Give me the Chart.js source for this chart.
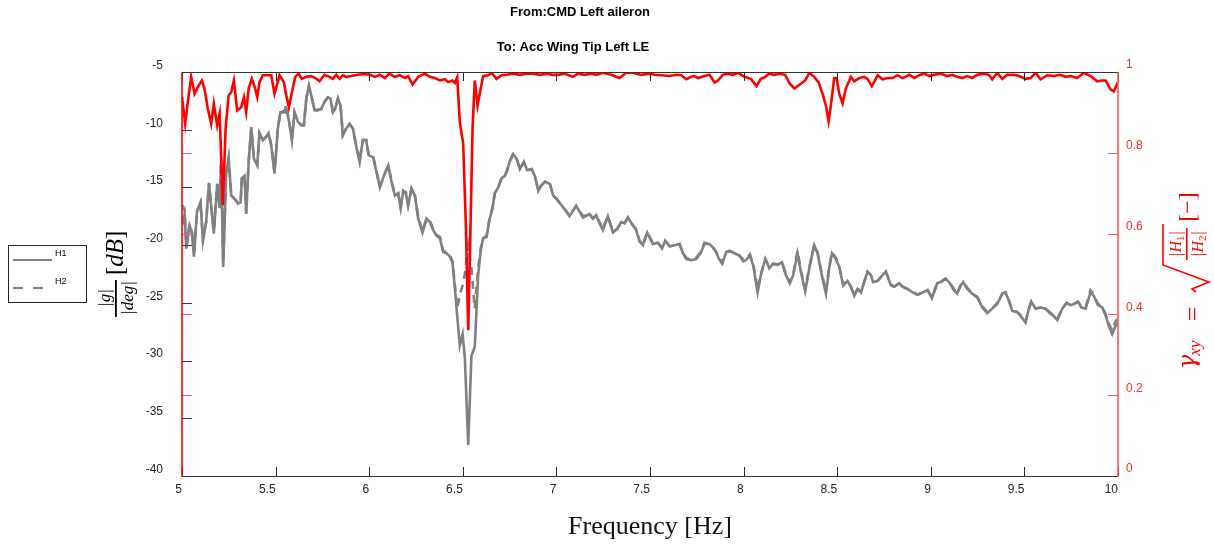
<!DOCTYPE html>
<html>
<head>
<meta charset="utf-8">
<script src="https://cdn.jsdelivr.net/npm/chart.js@4"></script>
<style>
  html, body { margin: 0; padding: 0; background: #fff; }
  #wrap { width: 1214px; height: 546px; }
</style>
</head>
<body>
<div id="wrap"><canvas id="chart" width="1214" height="546"></canvas></div>
<script>
// frequency points of the magnitude curves [Hz]
const freqMag = [
  5.000, 5.014, 5.023, 5.040, 5.053, 5.064, 5.080, 5.099, 5.112, 5.129,
  5.144, 5.156, 5.170, 5.188, 5.201, 5.209, 5.220, 5.236, 5.249, 5.263,
  5.281, 5.299, 5.313, 5.320, 5.334, 5.343, 5.356, 5.370, 5.384, 5.402,
  5.414, 5.432, 5.450, 5.462, 5.477, 5.494, 5.512, 5.526, 5.548, 5.557,
  5.571, 5.587, 5.601, 5.619, 5.637, 5.651, 5.664, 5.678, 5.690, 5.708,
  5.726, 5.744, 5.761, 5.779, 5.793, 5.806, 5.818, 5.833, 5.847, 5.859,
  5.877, 5.895, 5.913, 5.930, 5.949, 5.966, 5.984, 5.997, 6.022, 6.057,
  6.078, 6.102, 6.119, 6.137, 6.155, 6.168, 6.182, 6.196, 6.208, 6.226,
  6.244, 6.262, 6.285, 6.306, 6.324, 6.342, 6.360, 6.378, 6.395, 6.413,
  6.431, 6.445, 6.458, 6.470, 6.484, 6.499, 6.511, 6.529, 6.546, 6.564,
  6.582, 6.597, 6.609, 6.627, 6.641, 6.659, 6.671, 6.689, 6.707, 6.725,
  6.737, 6.752, 6.769, 6.787, 6.805, 6.826, 6.844, 6.867, 6.885, 6.903,
  6.921, 6.939, 6.965, 6.983, 7.001, 7.040, 7.070, 7.106, 7.142, 7.177,
  7.195, 7.213, 7.225, 7.248, 7.275, 7.302, 7.325, 7.346, 7.364, 7.382,
  7.409, 7.426, 7.444, 7.462, 7.485, 7.515, 7.542, 7.564, 7.581, 7.605,
  7.631, 7.658, 7.676, 7.694, 7.720, 7.747, 7.770, 7.791, 7.818, 7.836,
  7.854, 7.868, 7.886, 7.907, 7.925, 7.952, 7.978, 7.999, 8.012, 8.034,
  8.052, 8.075, 8.092, 8.116, 8.137, 8.158, 8.181, 8.205, 8.226, 8.247,
  8.265, 8.288, 8.306, 8.329, 8.351, 8.377, 8.395, 8.418, 8.440, 8.457,
  8.472, 8.493, 8.511, 8.532, 8.555, 8.573, 8.591, 8.609, 8.627, 8.644,
  8.662, 8.680, 8.692, 8.716, 8.742, 8.760, 8.787, 8.805, 8.831, 8.849,
  8.876, 8.903, 8.929, 8.956, 8.983, 9.006, 9.034, 9.052, 9.079, 9.102,
  9.123, 9.141, 9.159, 9.173, 9.195, 9.221, 9.248, 9.275, 9.302, 9.328,
  9.355, 9.382, 9.399, 9.417, 9.435, 9.462, 9.483, 9.506, 9.524, 9.537,
  9.560, 9.586, 9.613, 9.636, 9.654, 9.676, 9.702, 9.725, 9.747, 9.764,
  9.786, 9.804, 9.827, 9.853, 9.871, 9.893, 9.916, 9.934, 9.951, 9.969,
  9.987, 10.000
];

// H1 estimate [dB]
const h1Db = [
  -18.3, -17.3, -20.3, -18.3, -18.9, -21.0, -17.1, -16.3, -19.6, -18.0,
  -14.7, -16.6, -19.0, -14.7, -16.8, -12.8, -21.9, -13.7, -12.5, -15.7,
  -16.0, -16.4, -16.3, -14.2, -14.0, -17.3, -12.8, -9.8, -12.5, -13.1,
  -10.3, -10.9, -10.6, -10.3, -11.4, -13.8, -9.9, -8.5, -8.5, -8.2,
  -9.2, -10.9, -8.5, -9.3, -9.6, -9.6, -7.3, -6.2, -7.0, -8.3,
  -8.3, -8.2, -7.6, -7.2, -7.3, -8.5, -8.2, -7.3, -7.9, -10.5,
  -9.9, -9.5, -9.9, -11.4, -12.8, -10.9, -10.9, -12.2, -12.4, -15.0,
  -14.0, -13.1, -14.5, -15.7, -15.5, -16.8, -15.3, -15.5, -16.6, -15.1,
  -15.7, -17.7, -18.9, -17.7, -18.0, -18.7, -19.2, -19.4, -20.6, -20.7,
  -21.0, -21.5, -23.8, -26.1, -28.7, -27.7, -29.8, -37.3, -29.6, -28.8,
  -22.6, -20.3, -19.4, -19.3, -17.9, -16.8, -15.5, -15.0, -14.2, -14.0,
  -13.5, -12.7, -12.1, -12.5, -13.4, -12.8, -13.5, -13.4, -14.0, -15.3,
  -14.8, -14.5, -14.7, -15.7, -16.0, -16.8, -17.5, -16.6, -17.6, -17.3,
  -17.7, -17.4, -17.9, -18.7, -17.5, -18.9, -18.6, -18.0, -18.1, -17.6,
  -18.3, -18.7, -19.7, -20.0, -18.9, -19.9, -19.8, -20.3, -19.6, -20.1,
  -20.0, -19.9, -20.7, -21.2, -21.3, -21.2, -20.7, -19.9, -19.9, -20.2,
  -20.6, -21.2, -21.6, -20.6, -20.5, -20.7, -20.9, -21.4, -21.3, -20.9,
  -21.8, -24.1, -22.6, -21.2, -22.0, -21.6, -21.7, -21.5, -22.6, -23.3,
  -22.6, -20.7, -22.3, -24.0, -22.0, -20.0, -20.7, -22.6, -24.2, -22.0,
  -20.7, -21.2, -21.9, -23.5, -23.1, -23.6, -24.4, -23.8, -24.1, -23.2,
  -22.3, -22.6, -23.2, -23.1, -22.6, -22.3, -23.5, -23.6, -23.3, -23.6,
  -23.8, -24.1, -24.3, -24.1, -23.9, -24.6, -23.3, -23.2, -22.9, -23.3,
  -23.9, -24.2, -23.5, -23.2, -23.8, -24.2, -24.5, -25.4, -25.9, -25.5,
  -25.1, -24.2, -24.1, -24.8, -25.7, -25.8, -26.2, -26.7, -25.5, -24.9,
  -25.5, -25.4, -25.5, -25.9, -26.1, -26.5, -25.5, -25.0, -25.2, -25.1,
  -24.9, -25.4, -25.5, -24.1, -24.4, -25.2, -25.4, -26.1, -27.0, -27.7,
  -27.0, -26.7
];

// H2 estimate [dB]
const h2Db = [
  -16.5, -17.0, -20.1, -18.2, -18.9, -20.8, -17.1, -16.3, -19.5, -18.0,
  -14.6, -16.6, -18.8, -14.7, -16.6, -12.4, -21.5, -13.7, -12.4, -15.6,
  -16.0, -16.3, -16.3, -14.1, -14.0, -17.2, -12.8, -9.8, -12.4, -13.0,
  -10.3, -10.9, -10.6, -10.3, -11.3, -13.7, -9.9, -8.4, -8.4, -7.8,
  -9.2, -10.8, -8.5, -9.3, -9.6, -9.6, -7.3, -6.2, -7.0, -8.3,
  -8.3, -8.2, -7.6, -7.2, -7.3, -8.4, -8.2, -7.3, -7.9, -10.4,
  -9.9, -9.5, -9.9, -11.3, -12.7, -10.9, -10.9, -12.2, -12.4, -14.9,
  -14.0, -13.1, -14.4, -15.6, -15.5, -16.7, -15.3, -15.4, -16.5, -15.1,
  -15.7, -17.6, -18.8, -17.7, -17.9, -18.6, -19.1, -19.3, -20.5, -20.6,
  -20.9, -21.4, -23.5, -25.5, -24.3, -23.5, -22.5, -20.0, -22.0, -25.5,
  -22.0, -20.2, -19.4, -19.2, -17.9, -16.7, -15.5, -15.0, -14.2, -14.0,
  -13.5, -12.7, -12.1, -12.5, -13.4, -12.8, -13.5, -13.4, -14.0, -15.2,
  -14.8, -14.5, -14.7, -15.7, -16.0, -16.8, -17.4, -16.6, -17.5, -17.3,
  -17.7, -17.4, -17.8, -18.6, -17.5, -18.8, -18.6, -18.0, -18.1, -17.6,
  -18.3, -18.6, -19.6, -20.0, -18.9, -19.8, -19.8, -20.2, -19.6, -20.1,
  -20.0, -19.9, -20.7, -21.1, -21.3, -21.1, -20.6, -19.8, -19.9, -20.2,
  -20.6, -21.1, -21.5, -20.6, -20.5, -20.7, -20.9, -21.3, -21.2, -20.8,
  -21.7, -23.9, -22.5, -21.2, -21.9, -21.6, -21.7, -21.5, -22.5, -23.2,
  -22.5, -20.5, -22.2, -23.8, -21.9, -20.0, -20.6, -22.5, -24.0, -21.9,
  -20.6, -21.1, -21.8, -23.4, -23.1, -23.6, -24.3, -23.8, -24.0, -23.2,
  -22.3, -22.6, -23.1, -23.1, -22.6, -22.3, -23.4, -23.6, -23.3, -23.6,
  -23.8, -24.0, -24.3, -24.1, -23.9, -24.5, -23.3, -23.2, -22.9, -23.3,
  -23.8, -24.2, -23.5, -23.2, -23.7, -24.2, -24.5, -25.3, -25.8, -25.5,
  -25.0, -24.2, -24.1, -24.8, -25.6, -25.8, -26.1, -26.6, -25.5, -24.9,
  -25.5, -25.4, -25.5, -25.8, -26.1, -26.4, -25.5, -25.0, -25.2, -25.1,
  -24.9, -25.3, -25.4, -23.9, -24.3, -25.1, -25.3, -26.0, -26.8, -27.4,
  -26.6, -26.4
];

// frequency points of the coherence curve [Hz]
const freqCoh = [
  5.000, 5.017, 5.031, 5.049, 5.067, 5.085, 5.106, 5.120, 5.138, 5.156,
  5.170, 5.188, 5.201, 5.218, 5.233, 5.249, 5.263, 5.277, 5.295, 5.316,
  5.331, 5.343, 5.356, 5.373, 5.388, 5.402, 5.414, 5.432, 5.459, 5.477,
  5.494, 5.509, 5.521, 5.544, 5.557, 5.571, 5.587, 5.605, 5.623, 5.640,
  5.664, 5.690, 5.712, 5.735, 5.761, 5.788, 5.806, 5.824, 5.842, 5.859,
  5.877, 5.904, 5.940, 5.975, 6.004, 6.030, 6.057, 6.084, 6.107, 6.137,
  6.164, 6.191, 6.208, 6.232, 6.262, 6.297, 6.324, 6.351, 6.378, 6.404,
  6.422, 6.445, 6.458, 6.470, 6.484, 6.502, 6.517, 6.529, 6.541, 6.552,
  6.564, 6.579, 6.595, 6.609, 6.636, 6.654, 6.680, 6.707, 6.734, 6.769,
  6.805, 6.841, 6.876, 6.912, 6.947, 6.983, 7.008, 7.044, 7.088, 7.115,
  7.150, 7.186, 7.213, 7.248, 7.293, 7.337, 7.373, 7.409, 7.453, 7.498,
  7.524, 7.560, 7.605, 7.640, 7.667, 7.694, 7.720, 7.738, 7.756, 7.791,
  7.818, 7.845, 7.863, 7.889, 7.916, 7.943, 7.970, 8.005, 8.039, 8.069,
  8.092, 8.116, 8.137, 8.164, 8.190, 8.222, 8.247, 8.271, 8.306, 8.329,
  8.351, 8.377, 8.400, 8.422, 8.440, 8.454, 8.466, 8.484, 8.497, 8.511,
  8.529, 8.546, 8.573, 8.591, 8.618, 8.644, 8.662, 8.685, 8.716, 8.742,
  8.769, 8.796, 8.822, 8.849, 8.885, 8.912, 8.938, 8.965, 8.992, 9.017,
  9.052, 9.088, 9.115, 9.141, 9.168, 9.195, 9.221, 9.248, 9.284, 9.310,
  9.328, 9.355, 9.382, 9.408, 9.444, 9.471, 9.506, 9.533, 9.560, 9.586,
  9.622, 9.658, 9.690, 9.720, 9.747, 9.782, 9.818, 9.853, 9.889, 9.916,
  9.934, 9.960, 9.978, 10.000
];

// coherence gamma_xy [-]
const coherence = [
  0.938, 0.872, 0.926, 0.988, 0.946, 0.963, 0.979, 0.959, 0.909, 0.872,
  0.922, 0.868, 0.897, 0.670, 0.860, 0.942, 0.950, 0.979, 0.905, 0.913,
  0.938, 0.901, 0.959, 0.983, 0.963, 0.938, 0.975, 0.992, 0.992, 0.992,
  0.946, 0.971, 0.992, 0.975, 0.942, 0.913, 0.950, 0.988, 0.996, 0.983,
  0.988, 0.990, 0.985, 0.977, 0.993, 0.988, 0.983, 0.993, 0.983, 0.992,
  0.988, 0.990, 0.993, 0.995, 0.993, 0.988, 0.993, 0.985, 0.996, 0.988,
  0.992, 0.985, 0.990, 0.969, 0.988, 0.996, 0.988, 0.985, 0.979, 0.982,
  0.975, 0.979, 0.973, 0.987, 0.876, 0.823, 0.612, 0.361, 0.612, 0.860,
  0.979, 0.917, 0.958, 0.990, 0.992, 0.998, 0.983, 0.992, 0.993, 0.996,
  0.993, 0.996, 0.996, 0.993, 0.996, 0.993, 0.993, 0.996, 0.988, 0.996,
  0.993, 0.996, 0.993, 0.998, 0.993, 0.985, 0.998, 0.998, 0.993, 0.996,
  0.993, 0.992, 0.990, 0.993, 0.992, 0.982, 0.988, 0.990, 0.985, 0.990,
  0.993, 0.974, 0.979, 0.993, 0.996, 0.993, 0.998, 0.988, 0.983, 0.965,
  0.983, 0.988, 0.996, 0.993, 0.996, 0.993, 0.971, 0.959, 0.971, 0.979,
  0.998, 0.988, 0.975, 0.946, 0.917, 0.878, 0.917, 0.985, 0.985, 0.946,
  0.922, 0.959, 0.988, 0.977, 0.985, 0.988, 0.983, 0.965, 0.992, 0.982,
  0.985, 0.985, 0.992, 0.985, 0.993, 0.985, 0.992, 0.996, 0.990, 0.993,
  0.996, 0.990, 0.993, 0.988, 0.985, 0.990, 0.985, 0.993, 0.996, 0.993,
  0.982, 0.998, 0.983, 0.993, 0.993, 0.990, 0.983, 0.985, 0.998, 0.982,
  0.992, 0.990, 0.993, 0.988, 0.990, 0.985, 0.998, 0.990, 0.977, 0.979,
  0.979, 0.957, 0.952, 0.975
];

const freqTicks = [5, 5.5, 6, 6.5, 7, 7.5, 8, 8.5, 9, 9.5, 10];
const dbTicks = [-40, -35, -30, -25, -20, -15, -10, -5];
const cohTicks = [0, 0.2, 0.4, 0.6, 0.8, 1];
const titleLines = ['From:CMD Left aileron', 'To: Acc Wing Tip Left LE'];
const xTitle = 'Frequency [Hz]';

const GRAY = '#808080';
const RED = '#ff0000';
const TICK_FONT = { family: '"Liberation Sans", Arial, sans-serif', size: 12 };

function toPoints(xs, ys) {
  return xs.map((x, i) => ({ x: x, y: ys[i] }));
}

// draws a label like |H_1| with a subscript, centred at cx
function drawAbsSub(ctx, letter, sub, cx, base, size) {
  const big = 'italic ' + size + 'px "Liberation Serif", serif';
  const small = Math.round(size * 0.68) + 'px "Liberation Serif", serif';
  ctx.font = big;
  const wBar = ctx.measureText('|').width;
  const wLet = ctx.measureText(letter).width;
  ctx.font = small;
  const wSub = ctx.measureText(sub).width;
  let x = cx - (2 * wBar + wLet + wSub) / 2;
  ctx.textAlign = 'left';
  ctx.font = big;
  ctx.fillText('|', x, base); x += wBar;
  ctx.fillText(letter, x, base); x += wLet;
  ctx.font = small;
  ctx.fillText(sub, x, base + 3); x += wSub;
  ctx.font = big;
  ctx.fillText('|', x, base);
}

const decorations = {
  id: 'decorations',
  afterDraw(chart) {
    const ctx = chart.ctx;
    const a = chart.chartArea;
    const sx = chart.scales.x, sy = chart.scales.y, sr = chart.scales.y2;
    ctx.save();

    // inward tick marks
    ctx.lineWidth = 1;
    ctx.strokeStyle = '#262626';
    freqTicks.forEach(v => {
      const px = Math.round(sx.getPixelForValue(v)) + 0.5;
      ctx.beginPath();
      ctx.moveTo(px, a.bottom); ctx.lineTo(px, a.bottom - 9);
      ctx.moveTo(px, a.top); ctx.lineTo(px, a.top + 9);
      ctx.stroke();
    });
    ctx.strokeStyle = '#3a3a3a';
    dbTicks.forEach(v => {
      const py = Math.round(sy.getPixelForValue(v)) + 0.5;
      ctx.beginPath(); ctx.moveTo(a.left, py); ctx.lineTo(a.left + 10, py); ctx.stroke();
    });
    ctx.strokeStyle = '#ff5a5a';
    cohTicks.forEach(v => {
      const py = Math.round(sr.getPixelForValue(v)) + 0.5;
      ctx.beginPath();
      ctx.moveTo(a.left, py); ctx.lineTo(a.left + 10, py);
      ctx.moveTo(a.right, py); ctx.lineTo(a.right - 10, py);
      ctx.stroke();
    });

    // frame
    ctx.strokeStyle = '#333';
    ctx.beginPath();
    ctx.moveTo(a.left, a.top + 0.5); ctx.lineTo(a.right, a.top + 0.5);
    ctx.moveTo(a.left, a.bottom + 0.5); ctx.lineTo(a.right, a.bottom + 0.5);
    ctx.stroke();
    ctx.lineWidth = 1.6;
    ctx.strokeStyle = RED;
    ctx.beginPath(); ctx.moveTo(a.left, a.top); ctx.lineTo(a.left, a.bottom + 1); ctx.stroke();
    ctx.strokeStyle = '#ff5a5a';
    ctx.beginPath(); ctx.moveTo(a.right, a.top); ctx.lineTo(a.right, a.bottom + 1); ctx.stroke();

    // titles
    ctx.fillStyle = '#000';
    ctx.textAlign = 'center';
    ctx.textBaseline = 'middle';
    ctx.font = 'bold 13px "Liberation Sans", Arial, sans-serif';
    ctx.fillText(titleLines[0], 580, 12);
    ctx.fillText(titleLines[1], 573, 47);

    // x axis title
    ctx.font = '26px "Liberation Serif", serif';
    ctx.fillStyle = '#111';
    ctx.fillText(xTitle, (a.left + a.right) / 2, 527);

    // left axis title  |g|/|deg| [dB]  (rotated; x' = -screenY, y' = screenX)
    ctx.textBaseline = 'alphabetic';
    ctx.save();
    ctx.rotate(-Math.PI / 2);
    ctx.fillStyle = '#000';
    ctx.textAlign = 'center';
    ctx.font = 'italic 17px "Liberation Serif", serif';
    ctx.fillText('|g|', -298, 109.5);
    ctx.fillText('|deg|', -298, 132.5);
    ctx.fillRect(-317, 115, 37, 1.8);
    ctx.textAlign = 'left';
    let x = -275;
    ctx.font = '25px "Liberation Serif", serif';
    ctx.fillText('[', x, 123); x += ctx.measureText('[').width;
    ctx.font = 'italic 25px "Liberation Serif", serif';
    ctx.fillText('dB', x, 123); x += ctx.measureText('dB').width;
    ctx.font = '25px "Liberation Serif", serif';
    ctx.fillText(']', x, 123);
    ctx.restore();

    // right axis title  gamma_xy = sqrt(|H1|/|H2|) [-]
    ctx.save();
    ctx.rotate(-Math.PI / 2);
    ctx.fillStyle = RED;
    ctx.strokeStyle = RED;
    ctx.textAlign = 'left';
    ctx.font = 'italic 24px "DejaVu Serif", serif';
    ctx.fillText('\u03b3', -369, 1195);
    const wg = ctx.measureText('\u03b3').width;
    ctx.font = 'italic 17px "Liberation Serif", serif';
    ctx.fillText('xy', -370 + wg, 1200);
    ctx.textAlign = 'center';
    ctx.font = '26px "Liberation Serif", serif';
    ctx.fillText('=', -314, 1201);
    ctx.lineWidth = 1.6;
    ctx.beginPath();
    ctx.moveTo(-292, 1196); ctx.lineTo(-289, 1192); ctx.lineTo(-282, 1209);
    ctx.lineTo(-265, 1163); ctx.lineTo(-224, 1163);
    ctx.stroke();
    drawAbsSub(ctx, 'H', '1', -244, 1181, 16);
    drawAbsSub(ctx, 'H', '2', -244, 1203, 16);
    ctx.fillRect(-260, 1186, 32, 1.6);
    ctx.textAlign = 'center';
    ctx.font = '24px "Liberation Serif", serif';
    ctx.fillText('[\u2212]', -207, 1195);
    ctx.restore();

    // legend
    ctx.lineWidth = 1;
    ctx.strokeStyle = '#222';
    ctx.strokeRect(8.5, 245.5, 78, 57);
    const entries = chart.data.datasets.filter(d => d.label === 'H1' || d.label === 'H2');
    entries.forEach((d, i) => {
      const ly = i === 0 ? 260 : 288;
      ctx.strokeStyle = d.borderColor;
      ctx.lineWidth = 2.2;
      ctx.setLineDash(d.borderDash ? [10, 10] : []);
      ctx.beginPath(); ctx.moveTo(13, ly); ctx.lineTo(52, ly); ctx.stroke();
      ctx.setLineDash([]);
      ctx.fillStyle = '#000';
      ctx.textAlign = 'left';
      ctx.textBaseline = 'middle';
      ctx.font = '9px "Liberation Sans", Arial, sans-serif';
      ctx.fillText(d.label, 55, ly - 6);
    });
    ctx.restore();
  }
};

new Chart(document.getElementById('chart'), {
  type: 'line',
  data: {
    datasets: [
      {
        label: 'coherence',
        data: toPoints(freqCoh, coherence),
        yAxisID: 'y2',
        borderColor: RED,
        borderWidth: 2.6,
        pointRadius: 0,
        tension: 0,
        order: 0
      },
      {
        label: 'H1',
        data: toPoints(freqMag, h1Db),
        yAxisID: 'y',
        borderColor: GRAY,
        borderWidth: 2.6,
        pointRadius: 0,
        tension: 0,
        order: 1
      },
      {
        label: 'H2',
        data: toPoints(freqMag, h2Db),
        yAxisID: 'y',
        borderColor: GRAY,
        borderWidth: 2.6,
        borderDash: [8, 6],
        pointRadius: 0,
        tension: 0,
        order: 2
      }
    ]
  },
  options: {
    responsive: false,
    animation: false,
    devicePixelRatio: 1,
    layout: { padding: { top: 72, left: 0, right: 0, bottom: 0 } },
    plugins: { legend: { display: false }, title: { display: false }, tooltip: { enabled: false } },
    scales: {
      x: {
        type: 'linear',
        position: 'bottom',
        min: 5,
        max: 10,
        afterBuildTicks: s => { s.ticks = freqTicks.map(v => ({ value: v })); },
        afterFit: s => { s.height = 70; },
        grid: { display: false, drawTicks: false },
        border: { display: false },
        ticks: { align: 'end', padding: 6, maxRotation: 0, autoSkip: false, color: '#262626', font: TICK_FONT,
                 callback: v => String(v) }
      },
      y: {
        type: 'linear',
        position: 'left',
        min: -40,
        max: -5,
        afterBuildTicks: s => { s.ticks = dbTicks.map(v => ({ value: v })); },
        afterFit: s => { s.width = 182; },
        grid: { display: false, drawTicks: false },
        border: { display: false },
        ticks: { padding: 19, labelOffset: -6.5, color: '#262626', font: TICK_FONT, callback: v => String(v) }
      },
      y2: {
        type: 'linear',
        position: 'right',
        min: 0,
        max: 1,
        afterBuildTicks: s => { s.ticks = cohTicks.map(v => ({ value: v })); },
        afterFit: s => { s.width = 96; },
        grid: { display: false, drawTicks: false },
        border: { display: false },
        ticks: { padding: 8, labelOffset: -7, color: '#ff2a2a', font: TICK_FONT, callback: v => String(v) }
      }
    }
  },
  plugins: [decorations]
});
</script>
</body>
</html>
